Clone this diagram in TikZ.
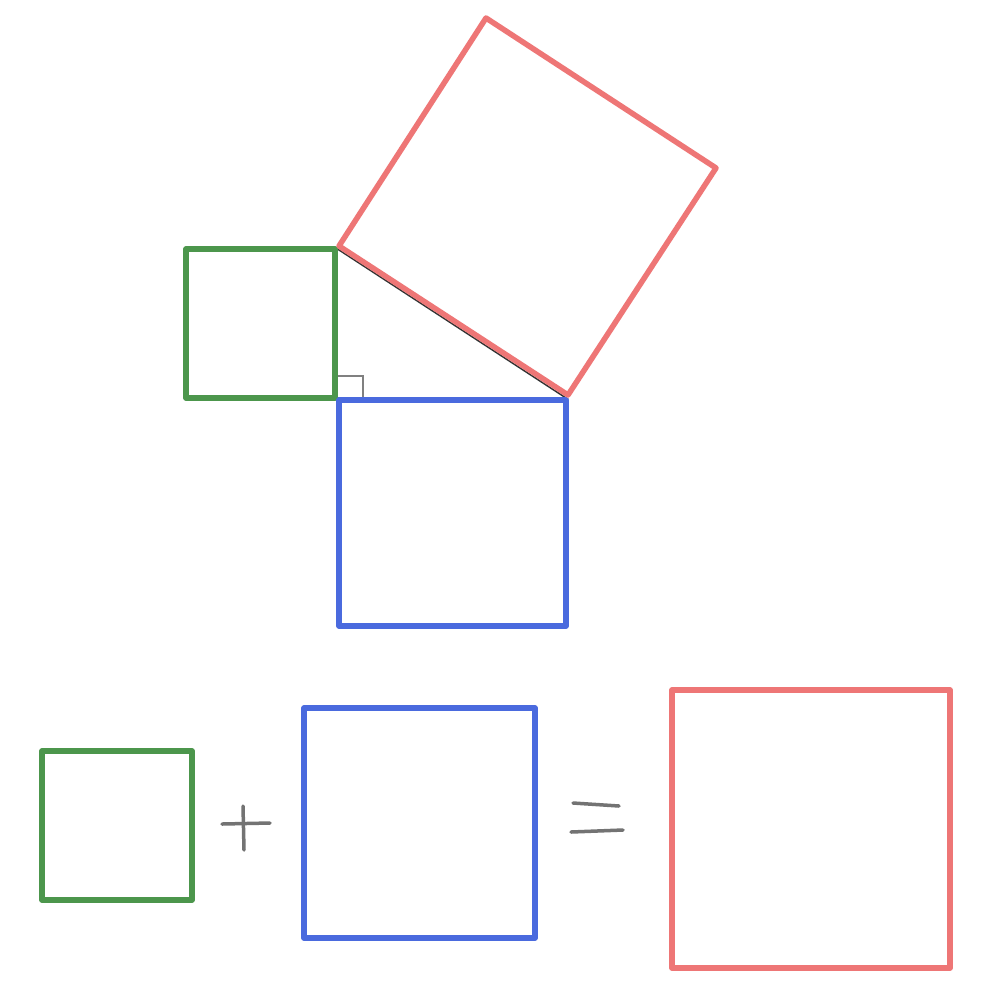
\documentclass[tikz,border=0pt]{standalone}
\usetikzlibrary{calc}
\begin{document}
\begin{tikzpicture}[x=1pt,y=-1pt,
  sq/.style={line width=5.5pt,line join=round,line cap=round},
  pencil/.style={draw=black!55,line width=3.5pt,line cap=round},
  tri/.style={draw=black!80,line width=1.5pt}]
\definecolor{sred}{RGB}{238,118,118}
\definecolor{sgreen}{RGB}{76,150,76}
\definecolor{sblue}{RGB}{74,106,222}
\useasboundingbox[fill=white] (0,0) rectangle (1000,989);
% triangle vertices
\coordinate (A) at (336,248);
\coordinate (R) at (336,398);
\coordinate (B) at (566,398);
\coordinate (C) at (716,168);
\coordinate (D) at (486,18);
% triangle
\draw[tri] (A) -- (R) -- (B) -- cycle;
\draw[draw=black!50,line width=1.5pt] (336,376) -- (363,376) -- (363,398);
% squares on sides
\draw[sq,draw=sgreen] (186,249) rectangle (335,398);
\draw[sq,draw=sblue] (339,400) rectangle (566,626);
\draw[sq,draw=sred] ($(A)+(3,-2)$) -- ($(B)+(2,-3)$) -- (C) -- (D) -- cycle;
% equation
\draw[sq,draw=sgreen] (42,751) rectangle (192,900);
\draw[sq,draw=sblue] (304,708) rectangle (535,938);
\draw[sq,draw=sred] (672,690) rectangle (950,968);
\coordinate (p1) at (222,824); \coordinate (p2) at (270,823);
\coordinate (p3) at (243,806); \coordinate (p4) at (244,850);
\draw[pencil] (p1) -- (p2);
\draw[pencil] (p3) -- (p4);
\coordinate (e1) at (573,803); \coordinate (e2) at (619,806);
\coordinate (e3) at (571,832); \coordinate (e4) at (623,830);
\draw[pencil] (e1) -- (e2);
\draw[pencil] (e3) -- (e4);
\end{tikzpicture}
\end{document}
